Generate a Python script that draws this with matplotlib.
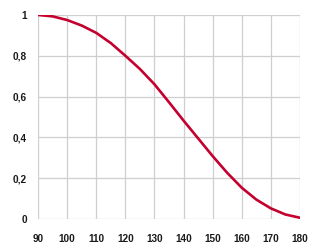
import matplotlib
matplotlib.use("Agg")
import matplotlib.pyplot as plt

# angle (degrees) and relative value
angles = [90, 95, 100, 105, 110, 115, 120, 125, 130, 135, 140,
          145, 150, 155, 160, 165, 170, 175, 180]
values = [1.0, 0.993, 0.975, 0.948, 0.912, 0.862, 0.80, 0.735, 0.66, 0.572, 0.482,
          0.395, 0.308, 0.226, 0.153, 0.095, 0.052, 0.022, 0.006]

x_ticks = [90, 100, 110, 120, 130, 140, 150, 160, 170, 180]
y_ticks = [0, 0.2, 0.4, 0.6, 0.8, 1.0]
y_labels = ["0", "0,2", "0,4", "0,6", "0,8", "1"]

plt.rcParams["font.family"] = ["Liberation Sans", "DejaVu Sans"]

fig = plt.figure(figsize=(3.2, 2.49), dpi=100)
ax = fig.add_axes([0.119, 0.1205, 0.8185, 0.8195])

ax.plot(angles, values, color="#c4002f", lw=1.9, solid_capstyle="round",
        solid_joinstyle="round", zorder=3)

ax.set_xlim(90, 180)
ax.set_ylim(0, 1)
ax.set_xticks(x_ticks)
ax.set_yticks(y_ticks)
ax.set_yticklabels(y_labels)
ax.grid(True, color="#cfcfcf", lw=0.9)
ax.set_axisbelow(True)
for s in ax.spines.values():
    s.set_visible(False)
ax.tick_params(length=0, labelsize=7.2, colors="#1a1a1a")
ax.tick_params(axis="x", pad=11)
ax.tick_params(axis="y", pad=8)
for lbl in ax.get_xticklabels() + ax.get_yticklabels():
    lbl.set_fontweight("bold")

fig.savefig("out.png", dpi=100)
